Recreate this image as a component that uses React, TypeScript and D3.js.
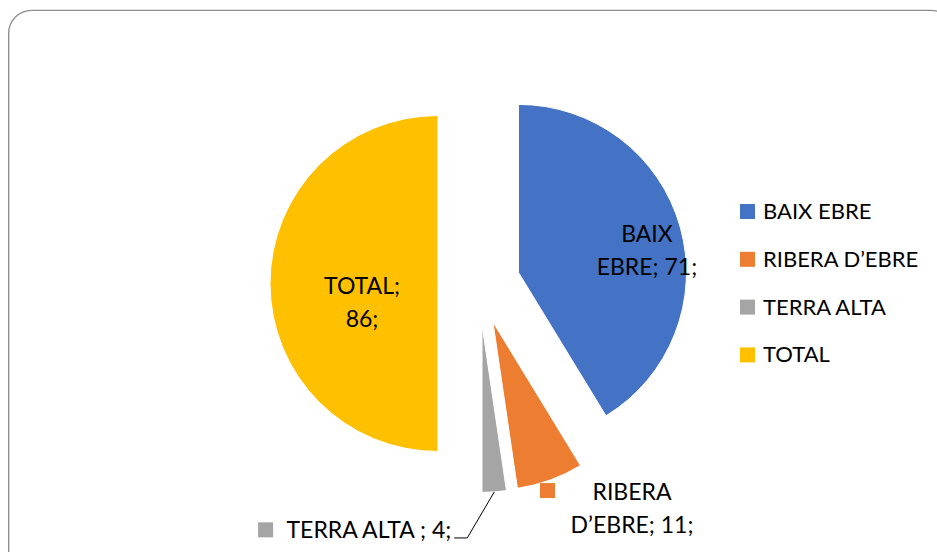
import React, { useRef, useEffect } from 'react';
import * as d3 from 'd3';

// Chart data
const categories = ['BAIX EBRE', 'RIBERA D\u2019EBRE', 'TERRA ALTA ', 'TOTAL'];
const values = [71, 11, 4, 86];
const colors = ['#4472C4', '#ED7D31', '#A5A5A5', '#FFC000'];

// words that stay on the first line of each data label (null = one line)
const firstLineWords = [1, 1, null, 1];

const WIDTH = 937;
const HEIGHT = 552;
const FONT = "Lato, 'Open Sans', sans-serif";

const App = () => {
  const svgRef = useRef(null);

  useEffect(() => {
    const svg = d3.select(svgRef.current);
    svg.selectAll('*').remove();

    const cx = 479;
    const cy = 283.5;
    const radius = 168;
    const explode = 41;

    // chart area frame, runs past the right/bottom edge like the screenshot
    svg.append('rect')
      .attr('x', 8.7)
      .attr('y', 10.3)
      .attr('width', 945)
      .attr('height', 565)
      .attr('rx', 23)
      .attr('ry', 23)
      .style('fill', '#fff')
      .style('stroke', '#8c8c8c')
      .style('stroke-width', 1.3);

    const pie = d3.pie<number>().sort(null).value((d) => d);
    const arcs = pie(values);
    const arc = d3.arc<any>().innerRadius(0).outerRadius(radius);

    const mid = (d) => (d.startAngle + d.endAngle) / 2;
    const along = (d, k) => [Math.sin(mid(d)) * k, -Math.cos(mid(d)) * k];

    const g = svg.append('g').attr('transform', `translate(${cx},${cy})`);

    // exploded slices
    const slice = g.selectAll('g.slice')
      .data(arcs)
      .enter().append('g')
      .attr('class', 'slice')
      .attr('transform', (d) => {
        const [x, y] = along(d, explode);
        return `translate(${x},${y})`;
      });

    slice.append('path')
      .attr('d', arc)
      .style('fill', (d, i) => colors[i])
      .style('stroke', '#fff')
      .style('stroke-width', 1);

    // label anchors relative to the slice centroid (first baseline)
    const labelShift = [[47.6, -7.9], [110.5, 99], null, [8, 10.8]];
    const lineH = 33;
    const labelSize = '23px';

    arcs.forEach((d, i) => {
      const [ox, oy] = along(d, explode);
      const text = `${categories[i]}; ${values[i]};`;
      const n = firstLineWords[i];

      if (n !== null) {
        const words = text.split(' ');
        const lines = [words.slice(0, n).join(' '), words.slice(n).join(' ')];
        const [c0, c1] = arc.centroid(d);
        const lx = c0 + ox + labelShift[i][0];
        const ly = c1 + oy + labelShift[i][1];
        const t = g.append('text')
          .attr('text-anchor', 'middle')
          .style('font-family', FONT)
          .style('font-size', labelSize)
          .style('fill', '#000');
        lines.forEach((l, j) => {
          t.append('tspan').attr('x', lx).attr('y', ly + j * lineH).text(l);
        });
        // legend key inside outside labels
        if (i === 1) {
          g.append('rect')
            .attr('x', lx - 92)
            .attr('y', ly - 17)
            .attr('width', 15)
            .attr('height', 15)
            .style('fill', colors[i]);
        }
      } else {
        // outside label with leader line
        const [px, py] = along(d, explode + radius);
        const ex = px - 27;
        const ey = py + 46;
        g.append('path')
          .attr('d', `M${px},${py}L${ex},${ey}L${ex - 13},${ey}`)
          .style('fill', 'none')
          .style('stroke', '#000')
          .style('stroke-width', 1);
        const t = g.append('text')
          .attr('x', ex - 16)
          .attr('y', ey + 0.5)
          .attr('text-anchor', 'end')
          .style('font-family', FONT)
          .style('font-size', labelSize)
          .style('fill', '#000')
          .text(text);
        const w = (t.node() as SVGTextElement).getComputedTextLength();
        g.append('rect')
          .attr('x', ex - 16 - w - 28.4)
          .attr('y', ey - 15.6)
          .attr('width', 15)
          .attr('height', 15)
          .style('fill', colors[i]);
      }
    });

    // legend
    const legend = svg.append('g').attr('transform', 'translate(740,219)');
    const item = legend.selectAll('g.item')
      .data(categories)
      .enter().append('g')
      .attr('class', 'item')
      .attr('transform', (d, i) => `translate(0,${i * 47.8})`);

    item.append('rect')
      .attr('x', 0)
      .attr('y', -15)
      .attr('width', 15)
      .attr('height', 15)
      .style('fill', (d, i) => colors[i]);

    item.append('text')
      .attr('x', 23)
      .attr('y', 0)
      .style('font-family', FONT)
      .style('font-size', '22px')
      .style('fill', '#000')
      .text((d) => d.trim());
  }, []);

  return (
    <svg
      ref={svgRef}
      width={WIDTH}
      height={HEIGHT}
      style={{ position: 'absolute', left: 0, top: 0, display: 'block' }}
    />
  );
};

export default App;
